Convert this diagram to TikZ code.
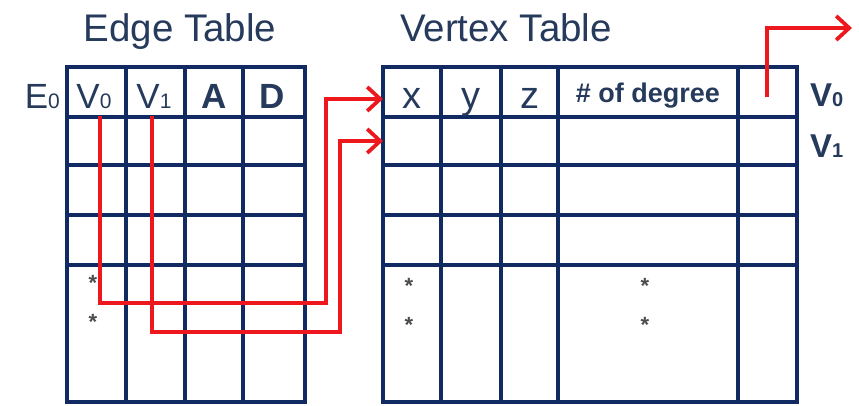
\documentclass[tikz,border=0pt]{standalone}
\usepackage{fontspec}
\setmainfont{Liberation Sans}
\usetikzlibrary{arrows.meta}
\definecolor{navy}{RGB}{18,42,98}
\definecolor{txt}{RGB}{38,58,92}
\definecolor{redline}{RGB}{236,24,30}
\newcommand{\fsz}[1]{\fontsize{#1}{#1}\selectfont}
\newcommand{\lowdig}[2]{{\fsz{#1}#2}}
\begin{document}
\begin{tikzpicture}[x=1pt,y=-1pt,
  grid/.style={draw=navy,line width=3.6pt},
  link/.style={draw=redline,line width=3.8pt,line join=miter,
    -{Straight Barb[length=13pt,width=24pt]}},
  title/.style={text=txt,inner sep=0pt,anchor=base,font=\fsz{38.5}},
  hdr/.style={text=txt,inner sep=0pt,anchor=base,font=\fsz{35}},
  hdrb/.style={text=txt,inner sep=0pt,anchor=base,font=\fsz{35}\bfseries},
  starmark/.style={text=black!70,inner sep=0pt,font=\fsz{22}\bfseries}]
\useasboundingbox (0,0) rectangle (859,405);
% titles
\node[title] (et) at (180,41) {Edge Table};
\node[title] (vt) at (506,41) {Vertex Table};
% edge table grid
\draw[grid] (67,67) rectangle (305,402);
\foreach \x in {126,185,243} \draw[grid] (\x,67) -- (\x,402);
\foreach \y in {117,165,215,265} \draw[grid] (67,\y) -- (305,\y);
% vertex table grid
\draw[grid] (383,67) rectangle (797,402);
\foreach \x in {441,501,558} \draw[grid] (\x,67) -- (\x,402);
\draw[grid,line width=4.6pt] (738,67) -- (738,402);
\foreach \y in {117,165,215,265} \draw[grid] (383,\y) -- (797,\y);
% edge header
\node[hdr,anchor=base east] (e0) at (60,108) {E\lowdig{21}{0}};
\node[hdr] (ev0) at (94,108) {V\lowdig{21}{0}};
\node[hdr] (ev1) at (154,108) {V\lowdig{21}{1}};
\node[hdrb] (ea) at (214,108) {A};
\node[hdrb] (ed) at (272,108) {D};
% vertex header
\node[hdr,font=\fsz{38}] (vx) at (412,108) {x};
\node[hdr,font=\fsz{38}] (vy) at (471,108) {y};
\node[hdr,font=\fsz{38}] (vz) at (530,108) {z};
\node[hdrb,font=\fsz{27}\bfseries] (vdeg) at (648,102) {\# of degree};
% right labels
\node[hdrb,font=\fsz{33}\bfseries,anchor=base west] (rv0) at (810,106) {V\lowdig{20}{0}};
\node[hdrb,font=\fsz{33}\bfseries,anchor=base west] (rv1) at (810,157) {V\lowdig{20}{1}};
% stars
\node[starmark] (s1) at (93,283) {*};
\node[starmark] (s2) at (93,322) {*};
\node[starmark] (s3) at (409,286) {*};
\node[starmark] (s4) at (409,325) {*};
\node[starmark] (s5) at (645,286) {*};
\node[starmark] (s6) at (645,325) {*};
% connector endpoints
\coordinate (p0) at (100,116);
\coordinate (t0) at (383,99);
\coordinate (p1) at (152,116);
\coordinate (t1) at (383,141);
\coordinate (p2) at (767,97);
\coordinate (t2) at (852,28);
\draw[link] (p0) -- (100,303) -- (326,303) -- (326,99) -- (t0);
\draw[link] (p1) -- (152,332) -- (340,332) -- (340,141) -- (t1);
\draw[link] (p2) -- (767,28) -- (t2);
\end{tikzpicture}
\end{document}
